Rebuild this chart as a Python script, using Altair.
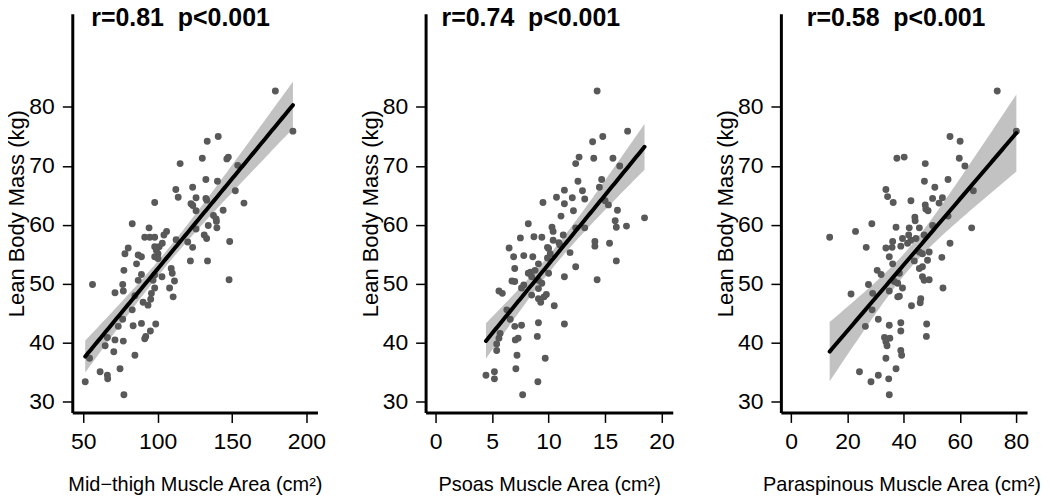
import altair as alt
import numpy as np
import pandas as pd

# ---- Panel 1: Mid-thigh muscle area (cm2) vs lean body mass (kg)
thigh_x = [179.1, 190.9, 140.7, 133.3, 147.5, 146.5, 130.0, 115.1, 153.8, 132.4,
           140.2, 152.2, 112.2, 123.5, 113.8, 125.8, 132.4, 133.0, 98.0, 158.0,
           122.4, 123.6, 125.8, 144.0, 137.5, 139.3, 139.5, 134.0, 139.8, 82.9,
           94.2, 106.0, 104.2, 91.3, 94.7, 98.0, 125.8, 131.3, 132.9, 148.4,
           103.1, 112.4, 120.2, 80.2, 98.0, 101.0, 123.5, 78.0, 86.9, 89.1,
           85.8, 99.1, 100.2, 98.0, 100.2, 122.0, 133.5, 148.0, 77.3, 56.2,
           76.5, 71.3, 76.9, 89.1, 86.9, 98.0, 96.9, 102.9, 109.1, 109.8,
           111.3, 108.0, 110.4, 98.0, 95.8, 95.3, 90.2, 93.5, 84.7, 82.9,
           76.5, 73.5, 83.5, 89.1, 98.7, 95.1, 92.0, 91.3, 66.2, 71.3,
           76.9, 64.7, 70.5, 84.7, 54.2, 74.7, 61.3, 66.2, 66.4, 51.3, 77.3]
thigh_y = [82.7, 75.9, 75.0, 74.2, 71.5, 71.2, 71.3, 70.4, 70.1, 67.7,
           67.4, 65.8, 66.0, 66.4, 64.7, 64.6, 64.5, 64.2, 63.8, 63.7,
           63.6, 63.3, 62.4, 62.5, 61.6, 61.0, 60.6, 59.9, 59.5, 60.2,
           59.5, 58.9, 58.3, 57.9, 57.9, 57.9, 59.3, 58.3, 57.7, 57.2,
           56.9, 57.5, 57.1, 56.1, 56.3, 56.3, 56.2, 55.1, 54.9, 54.6,
           53.4, 55.7, 55.1, 54.6, 54.3, 53.9, 53.9, 50.7, 52.3, 49.9,
           49.9, 48.5, 48.8, 51.6, 50.6, 51.5, 50.6, 51.2, 52.6, 51.8,
           50.5, 49.3, 47.8, 49.3, 48.4, 47.4, 46.9, 46.4, 48.0, 45.6,
           44.0, 42.8, 42.9, 43.3, 43.2, 42.0, 41.1, 40.7, 40.9, 40.5,
           40.3, 39.5, 38.5, 37.9, 37.4, 35.6, 35.1, 34.5, 33.9, 33.4, 31.2]

# ---- Panel 2: Psoas muscle area (cm2)
psoas_x = [14.3, 17.0, 13.9, 14.8, 14.0, 15.7, 12.4, 12.7, 16.3, 12.6,
           14.7, 14.5, 11.4, 13.0, 10.7, 12.1, 13.2, 9.5, 11.4, 15.0,
           15.3, 12.2, 16.1, 11.1, 15.9, 16.0, 16.9, 18.5, 8.2, 10.3,
           10.4, 12.4, 13.2, 7.5, 8.7, 9.4, 11.3, 10.4, 10.9, 14.1,
           14.1, 15.4, 6.5, 9.9, 11.0, 6.9, 7.8, 8.6, 10.0, 10.15,
           9.9, 11.9, 16.0, 12.4, 9.1, 8.4, 8.2, 8.8, 7.0, 10.0,
           11.4, 14.3, 6.75, 7.0, 8.5, 9.1, 9.4, 7.6, 7.8, 9.1,
           5.6, 5.9, 8.5, 9.1, 9.6, 9.8, 9.3, 10.5, 6.3, 6.6,
           7.0, 7.6, 9.1, 11.4, 9.0, 7.05, 7.3, 5.7, 5.6, 5.4,
           5.4, 7.2, 9.7, 7.1, 5.2, 5.2, 4.45, 9.05, 7.7]
psoas_y = [82.7, 75.9, 74.1, 75.0, 71.3, 71.3, 70.4, 71.5, 70.0, 67.4,
           67.7, 66.4, 65.9, 65.8, 64.7, 64.6, 64.4, 63.8, 63.6, 64.1,
           63.4, 62.4, 62.5, 61.5, 60.7, 59.6, 59.8, 61.2, 60.2, 59.6,
           58.9, 59.5, 59.5, 57.8, 58.0, 57.9, 58.3, 57.4, 57.0, 57.2,
           56.4, 56.9, 56.1, 56.2, 56.6, 54.6, 54.8, 54.6, 56.0, 55.1,
           54.4, 55.3, 53.9, 52.9, 53.4, 52.0, 51.8, 52.3, 52.6, 51.8,
           51.2, 50.7, 50.5, 50.4, 51.2, 50.6, 50.1, 49.3, 49.8, 49.2,
           48.8, 48.4, 48.1, 47.5, 47.8, 48.2, 46.9, 46.3, 45.6, 44.0,
           42.8, 43.0, 43.4, 43.2, 41.1, 40.5, 40.8, 41.6, 40.8, 39.8,
           38.7, 37.9, 37.4, 35.6, 35.1, 33.9, 34.5, 33.4, 31.2]

# ---- Panel 3: Paraspinous muscle area (cm2)
para_x = [73.3, 80.1, 56.5, 60.1, 37.6, 40.2, 47.7, 59.8, 61.8, 55.8,
          47.4, 51.1, 33.7, 34.3, 36.3, 42.6, 50.3, 53.8, 52.6, 64.8,
          47.7, 47.9, 48.7, 55.8, 44.0, 44.1, 28.7, 37.3, 42.0, 45.6,
          50.3, 22.9, 64.2, 13.7, 39.6, 41.8, 42.6, 44.4, 47.3, 36.1,
          41.4, 56.5, 26.7, 33.7, 35.9, 39.0, 34.9, 36.1, 46.7, 49.1,
          48.5, 45.6, 53.6, 43.8, 30.6, 32.0, 38.5, 45.6, 46.7, 46.7,
          47.3, 49.1, 27.5, 29.0, 36.7, 37.9, 21.3, 34.9, 39.6, 37.9,
          38.5, 46.1, 45.9, 54.0, 42.8, 28.8, 31.0, 26.4, 34.9, 39.0,
          39.0, 48.2, 48.1, 33.2, 35.1, 33.7, 34.1, 39.0, 39.3, 33.7,
          37.3, 24.3, 31.0, 28.4, 34.7, 34.9]
para_y = [82.7, 75.9, 75.0, 74.2, 71.3, 71.5, 70.4, 71.3, 70.0, 67.7,
          67.4, 66.4, 66.0, 64.8, 63.8, 64.1, 64.5, 64.6, 63.7, 65.8,
          63.4, 62.7, 62.4, 61.5, 61.3, 60.7, 60.2, 59.6, 59.5, 59.5,
          59.9, 58.9, 59.5, 57.9, 57.7, 58.3, 57.4, 57.7, 58.3, 57.2,
          56.9, 56.9, 56.2, 56.1, 56.2, 56.4, 54.6, 53.4, 55.1, 55.4,
          54.0, 55.4, 54.5, 53.9, 52.3, 51.6, 51.8, 52.6, 52.9, 51.2,
          50.6, 50.7, 49.9, 48.4, 50.4, 50.1, 48.3, 48.8, 49.3, 47.8,
          47.9, 47.5, 46.8, 49.3, 46.3, 45.6, 44.0, 42.8, 43.0, 43.4,
          42.0, 43.2, 41.1, 40.9, 40.8, 40.2, 39.5, 38.7, 37.9, 37.4,
          35.6, 35.1, 34.5, 33.4, 33.9, 31.2]

titles = ["r=0.81 \u00a0p<0.001", "r=0.74 \u00a0p<0.001", "r=0.58 \u00a0p<0.001"]
x_titles = ["Mid\u2212thigh Muscle Area (cm\u00b2)", "Psoas Muscle Area (cm\u00b2)",
            "Paraspinous Muscle Area (cm\u00b2)"]
x_ticks = [[50, 100, 150, 200], [0, 5, 10, 15, 20], [0, 20, 40, 60, 80]]
y_ticks = [30, 40, 50, 60, 70, 80]
y_title = "Lean Body Mass (kg)"

FONT = "Liberation Sans"


def fit_band(x, y, n=80):
    x = np.asarray(x, dtype=float)
    y = np.asarray(y, dtype=float)
    m = len(x)
    b1, b0 = np.polyfit(x, y, 1)
    resid = y - (b0 + b1 * x)
    s = np.sqrt((resid ** 2).sum() / (m - 2))
    xbar = x.mean()
    sxx = ((x - xbar) ** 2).sum()
    t = 1.985
    grid = np.linspace(x.min(), x.max(), n)
    fit = b0 + b1 * grid
    se = s * np.sqrt(1.0 / m + (grid - xbar) ** 2 / sxx)
    return pd.DataFrame({"x": grid, "fit": fit, "lo": fit - t * se, "hi": fit + t * se})


def panel(xs, ys, xtitle, xdomain, xvals, title, dx, width, title_x):
    pts = pd.DataFrame({"x": xs, "y": ys})
    band = fit_band(xs, ys)
    xscale = alt.Scale(domain=xdomain, nice=False, zero=False)
    yscale = alt.Scale(domain=[28.2, 95.8], nice=False, zero=False)
    xaxis = alt.Axis(values=xvals, title=xtitle, titleX=title_x)
    yaxis = alt.Axis(values=y_ticks, title=y_title)
    area = alt.Chart(band).mark_area(color="#c2c2c2", opacity=1).encode(
        x=alt.X("x:Q", scale=xscale, axis=xaxis),
        y=alt.Y("lo:Q", scale=yscale, axis=yaxis),
        y2="hi:Q",
    )
    dots = alt.Chart(pts).mark_circle(color="#595959", size=48, opacity=1).encode(
        x=alt.X("x:Q", scale=xscale, axis=xaxis),
        y=alt.Y("y:Q", scale=yscale, axis=yaxis),
    )
    line = alt.Chart(band).mark_line(color="black", strokeWidth=4, strokeCap="round").encode(
        x=alt.X("x:Q", scale=xscale, axis=xaxis),
        y=alt.Y("fit:Q", scale=yscale, axis=yaxis),
    )
    head = alt.Chart(pd.DataFrame({"t": [title]})).mark_text(
        font=FONT, fontSize=25, fontWeight="bold", color="black",
        align="left", baseline="alphabetic",
    ).encode(text="t:N", x=alt.value(dx), y=alt.value(12))
    return alt.layer(area, dots, line, head).properties(width=width, height=400)


p1 = panel(thigh_x, thigh_y, x_titles[0], [42.6, 207.4], x_ticks[0], titles[0], 19, 246, 123)
p2 = panel(psoas_x, psoas_y, x_titles[1], [-0.9, 21.0], x_ticks[1], titles[1], 16, 248, 124)
p3 = panel(para_x, para_y, x_titles[2], [-3.65, 83.9], x_ticks[2], titles[2], 26, 247, 121)

chart = (
    alt.hconcat(p1, p2, p3, spacing=108.5, bounds="flush")
    .resolve_scale(x="independent", y="independent")
    .properties(padding={"left": -3.5, "top": -4, "right": 0, "bottom": 0})
    .configure_view(stroke="transparent")
    .configure_axis(
        domainColor="black", domainWidth=3, tickColor="black", tickWidth=1.5,
        tickSize=10, labelFont=FONT, labelFontSize=23, labelColor="black",
        labelPadding=8, titleFont=FONT, titleFontWeight="normal",
        titleColor="black", grid=False, labelFlush=False,
    )
    .configure_axisX(titlePadding=21, titleFontSize=20)
    .configure_axisY(titlePadding=0, titleFontSize=22)
)

chart.save("out.html", embed_options={"renderer": "svg", "actions": False})
